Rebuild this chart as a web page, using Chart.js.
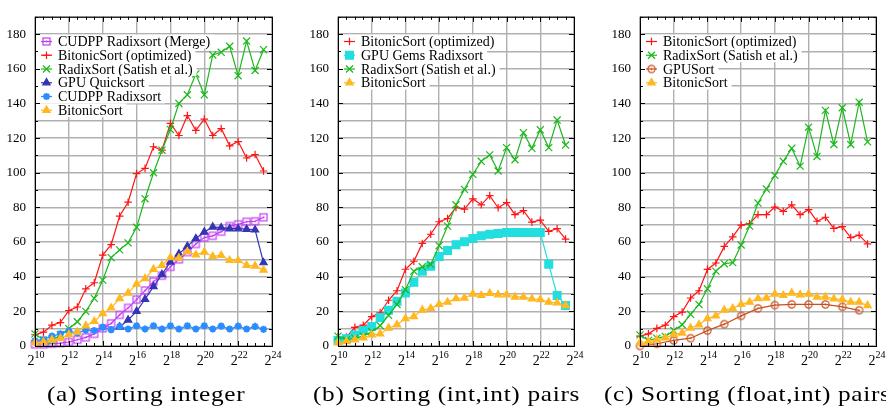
<!DOCTYPE html>
<html><head><meta charset="utf-8">
<script src="https://cdn.jsdelivr.net/npm/chart.js@4.4.1/dist/chart.umd.min.js"></script>
<style>
html,body{margin:0;padding:0;background:#fff;width:886px;height:409px;overflow:hidden;position:relative}
canvas{position:absolute;top:0}
</style></head><body>
<canvas id="ca" width="290" height="372" style="left:0px"></canvas>
<canvas id="cb" width="295" height="372" style="left:295px"></canvas>
<canvas id="cc" width="291" height="372" style="left:597px"></canvas>
<canvas id="cap" width="886" height="39" style="top:370px;left:0px"></canvas>
<script>
// ---- data (x = log2 of input size) ----
const log2N = [10,10.5,11,11.5,12,12.5,13,13.5,14,14.5,15,15.5,16,16.5,17,17.5,18,18.5,19,19.5,20,20.5,21,21.5,22,22.5,23,23.5];
const xTickPowers = [10,12,14,16,18,20,22,24];
const yTickValues = [0,20,40,60,80,100,120,140,160,180];
const captions = ['(a) Sorting integer', '(b) Sorting (int,int) pairs', '(c) Sorting (float,int) pairs'];

// panel (a)
const cudppMergeA = [1,1,1.3,1.7,2.3,3.6,5,7,10.2,13,18,22,26.8,32,37.2,40.6,45.7,50,54.2,58.9,62.6,63.6,66,69.2,70.2,71.7,72,74.3];
const bitonicOptA = [6.5,8,12,13.5,20.5,22.5,33,36.5,52.5,58.5,75,83,99.5,102.5,115,113,128.5,121.5,133,124.5,131,121.5,125.5,115.5,118,108.5,110.5,101];
const satishA = [7,3.5,3,6.5,10,14,20,27.5,38,51,55.5,59.5,68.5,85,100,113,125,140,145,157,145,168,169.5,173,156,176,159,171];
const quickA = [null,null,null,null,null,null,null,null,null,null,11,15,20,27,34.3,41.3,48.5,53.2,57.5,62,65.8,68.7,68.3,67.7,67.7,67.4,67,48.1];
const cudppA = [3,3.8,5.7,7,8.5,7.5,9.2,8.9,10.8,9.4,11.3,9.8,11.7,9.8,11.7,9.8,11.7,9.8,11.7,9.8,11.7,9.8,11.5,9.8,11.5,9.8,11.3,9.6];
const bitonicA = [2,2.3,3.6,4.5,6.6,8,11.7,14.2,18.7,22,27.4,30.6,35.7,39,44.3,46.6,51,50.8,54.5,52.6,54.2,51.7,52.3,49.4,49.4,46.6,46.2,43.8];

// panel (b)
const bitonicOptB = [5.1,5.1,10.8,12,17,19.2,26.4,31.9,44.3,48.9,59.2,64.5,71.7,73.6,80,79,84.9,81.5,86.8,79.8,82.8,75.8,78.1,71.5,72.6,66.2,67.7,61.7];
const gemsB = [3.2,4.2,6.4,8.9,11.3,16.4,20.6,25.8,30.6,36.8,43.2,46,51.7,55.1,58.5,60.2,62.1,63.6,64.5,64.9,65.5,65.5,65.5,65.5,65.5,47.2,29.2,23.4];
const satishB = [5.7,3.5,4.5,5.7,8.3,11.7,17.7,24,32.5,43.2,45.7,47,57.9,69.2,81.5,90.4,99.1,106.6,110.3,101,114.5,107.5,123.1,114.1,124.8,114.5,130.4,116];
const bitonicB = [1.9,2.6,3.6,4.7,6.4,7,10.4,12.3,15.8,17,20.8,21.7,24,25.3,27.4,27.7,30,29.2,30.4,29.6,29.6,28.3,28.3,27.2,26.8,25.3,24.9,23.4];

// panel (c)
const bitonicOptC = [5.7,7,10.2,12,17,19.6,27.7,31.9,44.2,47.9,57.5,63,69.8,70.6,75.8,75.8,80.2,77.7,81.5,75.8,78.7,72,74.3,67.9,68.9,62.6,64,58.9];
const satishC = [6.4,3.2,4.5,5.5,8.9,12.3,18.3,24,33,43.2,47.5,48.1,58.3,69.2,82.5,90.6,98.5,106.6,114.1,103.8,126.3,109.4,136,116.3,137.5,116.3,140.7,117.8];
const gpuSortC = [0,null,1.3,null,3.2,null,4.5,null,8.9,null,12.6,null,17.4,null,21.7,null,23.6,null,24,null,24,null,24,null,22.6,null,20.6,null];
const bitonicC = [1.9,2.6,3.6,4.7,6.6,7.5,10.4,12.3,15.8,17.4,20.8,21.7,24,25.3,27.4,27.7,30,29.2,30.6,29.6,30,28.3,28.3,27.2,26.8,25.3,25.3,23.4];

// ---- styles ----
const C = {magenta:'#c23cf5', red:'#ff1414', green:'#1cb81c', navy:'#3434b4', sky:'#2b8cff', orange:'#ffb820', cyan:'#22dede', brown:'#c8501e'};
function boxedDot(color){
  const c=document.createElement('canvas'); c.width=c.height=11;
  const g=c.getContext('2d'); g.strokeStyle=color; g.lineWidth=1.2; g.strokeRect(2,2,7,7);
  g.fillStyle=color; g.fillRect(4.6,4.6,1.8,1.8); return c;
}
function circleDot(color){
  const c=document.createElement('canvas'); c.width=c.height=11;
  const g=c.getContext('2d'); g.strokeStyle=color; g.lineWidth=1.2;
  g.beginPath(); g.arc(5.5,5.5,3.6,0,Math.PI*2); g.stroke();
  g.fillStyle=color; g.beginPath(); g.arc(5.5,5.5,0.9,0,Math.PI*2); g.fill(); return c;
}
const S = {
  merge:  {color:C.magenta, style:boxedDot(C.magenta), radius:4, fill:false},
  bopt:   {color:C.red, style:'cross', radius:3.8, fill:false},
  satish: {color:C.green, style:'crossRot', radius:5, fill:false},
  quick:  {color:C.navy, style:'triangle', radius:4.2, fill:true},
  cudpp:  {color:C.sky, style:'star', radius:3.6, fill:true, pbw:2},
  bitonic:{color:C.orange, style:'triangle', radius:4.2, fill:true},
  gems:   {color:C.cyan, style:'rect', radius:5.5, fill:true},
  gpusort:{color:C.brown, style:circleDot(C.brown), radius:4, fill:false}
};

const isEven = v => Math.abs(v/2 - Math.round(v/2)) < 1e-6;
const FONT = "'Liberation Serif'";

const framePlugin = {
  id:'frameLegend',
  afterDatasetsDraw(chart){
    const ctx = chart.ctx, a = chart.chartArea;
    ctx.save();
    ctx.font = '14px ' + FONT;
    ctx.textBaseline = 'middle';
    chart.data.datasets.forEach((ds, i) => {
      const cy = a.top + 24.7 + i*13.75;
      const tw = ctx.measureText(ds.label).width;
      ctx.fillStyle = '#fff';
      ctx.fillRect(a.left + 1, cy - 6.9, 23 + tw + 3, 13.8);
      ctx.strokeStyle = ds.borderColor; ctx.lineWidth = 1.2;
      ctx.beginPath(); ctx.moveTo(a.left + 6, cy); ctx.lineTo(a.left + 17, cy); ctx.stroke();
      ctx.fillStyle = ds.pointBackgroundColor; ctx.strokeStyle = ds.pointBorderColor; ctx.lineWidth = ds.pointBorderWidth;
      Chart.helpers.drawPoint(ctx, {pointStyle: ds.pointStyle, radius: ds.pointRadius, borderWidth: ds.pointBorderWidth, rotation: 0}, a.left + 11.5, cy);
      ctx.fillStyle = '#000';
      ctx.fillText(ds.label, a.left + 23, cy + 1);
    });
    ctx.restore();
  },
  afterDraw(chart){
    const ctx = chart.ctx, a = chart.chartArea, xs = chart.scales.x, ys = chart.scales.y;
    ctx.save();
    ctx.strokeStyle = '#000'; ctx.lineWidth = 1;
    ctx.strokeRect(a.left + 0.5, a.top + 0.5, a.right - a.left, a.bottom - a.top);
    ctx.beginPath();
    xs.ticks.forEach(t => {
      const px = Math.round(xs.getPixelForValue(t.value)) + 0.5;
      const len = isEven(t.value) ? 5 : 3;
      ctx.moveTo(px, a.bottom); ctx.lineTo(px, a.bottom - len);
      ctx.moveTo(px, a.top); ctx.lineTo(px, a.top + len);
    });
    ys.ticks.forEach(t => {
      const py = Math.round(ys.getPixelForValue(t.value)) + 0.5;
      const len = (t.value % 20 === 0) ? 5 : 3;
      ctx.moveTo(a.left, py); ctx.lineTo(a.left + len, py);
      ctx.moveTo(a.right, py); ctx.lineTo(a.right - len, py);
    });
    ctx.stroke();
    // x tick labels 2^n with a real superscript exponent, placed by the x scale
    ctx.fillStyle = '#000';
    ctx.textBaseline = 'alphabetic';
    xTickPowers.forEach(p => {
      const px = xs.getPixelForValue(p);
      ctx.font = '14px ' + FONT;
      const wb = ctx.measureText('2').width;
      ctx.font = '10px ' + FONT;
      const we = ctx.measureText(String(p)).width;
      const x0 = px - (wb + we) / 2 + 1;
      ctx.font = '14px ' + FONT;
      ctx.fillText('2', x0, a.bottom + 18.5);
      ctx.font = '10px ' + FONT;
      ctx.fillText(String(p), x0 + wb, a.bottom + 11.5);
    });
    ctx.restore();
  }
};

function makeChart(id, series, yw, padRight){
  const datasets = series.map((s, i) => ({
    label: s.label,
    data: log2N.map((x, k) => ({x: x, y: s.values[k]})),
    borderColor: s.st.color, backgroundColor: s.st.color,
    pointStyle: s.st.style, pointRadius: s.st.radius, pointHoverRadius: s.st.radius,
    pointBorderWidth: s.st.pbw || 1.2,
    pointBackgroundColor: s.st.fill ? s.st.color : 'rgba(0,0,0,0)',
    pointBorderColor: s.st.color,
    borderWidth: 1.2, tension: 0, spanGaps: true, clip: false, order: -i
  }));
  return new Chart(document.getElementById(id), {
    type: 'line',
    data: {datasets},
    options: {
      responsive: false, animation: false, devicePixelRatio: 1,
      layout: {padding: {top: 8, right: padRight, bottom: 0, left: 0}, autoPadding: false},
      plugins: {legend: {display: false}, tooltip: {enabled: false}},
      events: [],
      scales: {
        x: {type: 'linear', min: 10, max: 24,
          border: {display: false},
          grid: {drawTicks: false, lineWidth: 1.4, color: c => (c.tick && isEven(c.tick.value)) ? '#b0b0b0' : 'rgba(0,0,0,0)'},
          ticks: {stepSize: 0.5, autoSkip: false, display: false},
          afterFit: s => { s.height = 26; }
        },
        y: {min: 0, max: 190,
          border: {display: false},
          grid: {drawTicks: false, lineWidth: 1.4, color: '#b0b0b0'},
          ticks: {stepSize: 10, autoSkip: false, padding: 9, color: '#000',
            font: {family: FONT, size: 13}, callback: v => yTickValues.includes(v) ? String(v) : ''},
          afterFit: s => { s.width = yw; }
        }
      }
    },
    plugins: [framePlugin]
  });
}

function build(){
  makeChart('ca', [
    {label:'CUDPP Radixsort (Merge)', values:cudppMergeA, st:S.merge},
    {label:'BitonicSort (optimized)', values:bitonicOptA, st:S.bopt},
    {label:'RadixSort (Satish et al.)', values:satishA, st:S.satish},
    {label:'GPU Quicksort', values:quickA, st:S.quick},
    {label:'CUDPP Radixsort', values:cudppA, st:S.cudpp},
    {label:'BitonicSort', values:bitonicA, st:S.bitonic}
  ], 35, 18);
  makeChart('cb', [
    {label:'BitonicSort (optimized)', values:bitonicOptB, st:S.bopt},
    {label:'GPU Gems Radixsort', values:gemsB, st:S.gems},
    {label:'RadixSort (Satish et al.)', values:satishB, st:S.satish},
    {label:'BitonicSort', values:bitonicB, st:S.bitonic}
  ], 43, 16);
  makeChart('cc', [
    {label:'BitonicSort (optimized)', values:bitonicOptC, st:S.bopt},
    {label:'RadixSort (Satish et al.)', values:satishC, st:S.satish},
    {label:'GPUSort', values:gpuSortC, st:S.gpusort},
    {label:'BitonicSort', values:bitonicC, st:S.bitonic}
  ], 43, 12);

  // captions (a)(b)(c)
  const g = document.getElementById('cap').getContext('2d');
  const sx = 1.15;
  g.font = '22px ' + FONT;
  const wB = g.measureText(captions[1]).width;
  const ls = (267 / sx - wB) / captions[1].length;
  const lefts = [47, 313, 604];
  g.fillStyle = '#000';
  g.textBaseline = 'alphabetic';
  captions.forEach((t, i) => {
    g.save();
    g.translate(lefts[i], 31);
    g.scale(sx, 1);
    let x = 0;
    for (const ch of t) { g.fillText(ch, x, 0); x += g.measureText(ch).width + ls; }
    g.restore();
  });
}
if (document.fonts && document.fonts.load) {
  Promise.all([document.fonts.load("14px 'Liberation Serif'"), document.fonts.load("22px 'Liberation Serif'")]).then(build, build);
} else build();
</script>
</body></html>
